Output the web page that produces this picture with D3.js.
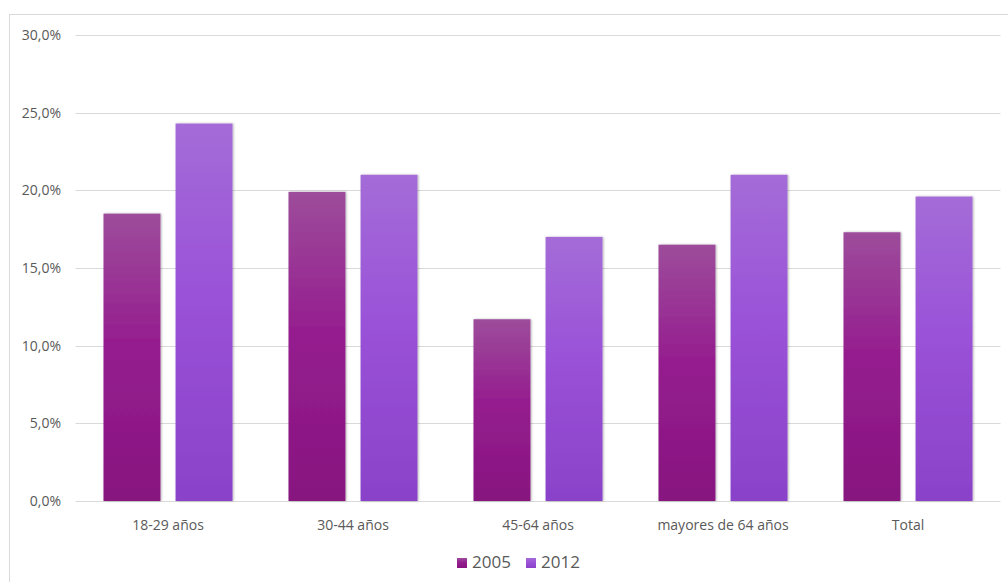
<!DOCTYPE html>
<html>
<head>
<meta charset="utf-8">
<script src="https://cdn.jsdelivr.net/npm/d3@7"></script>
<style>
  body { margin: 0; background: #fff; }
  text { font-family: "Open Sans", "DejaVu Sans", sans-serif; fill: #595959; }
</style>
</head>
<body>
<div id="scene"></div>
<script>
var categories = ["18-29 años", "30-44 años", "45-64 años", "mayores de 64 años", "Total"];
var seriesNames = ["2005", "2012"];
var values2005 = [18.5, 19.9, 11.7, 16.5, 17.3];
var values2012 = [24.3, 21.0, 17.0, 21.0, 19.6];
var yTicks = [0, 5, 10, 15, 20, 25, 30];

var ctx = {
  w: 1008,
  h: 582,
  left: 75.5,
  right: 1000.5,
  top: 35,
  bottom: 501
};

var svgEl = d3.select("#scene").append("svg")
  .attr("width", ctx.w)
  .attr("height", ctx.h);

var defs = svgEl.append("defs");

// gradients for the bars, lighter at the top
var grads = [
  { id: "g2005", top: "#9d4c9b", mid: "#951e8f", bot: "#87147f" },
  { id: "g2012", top: "#a46cd7", mid: "#9a52d8", bot: "#8a42c9" }
];
grads.forEach(function (g) {
  var lg = defs.append("linearGradient")
    .attr("id", g.id)
    .attr("x1", 0).attr("y1", 0).attr("x2", 0).attr("y2", 1);
  lg.append("stop").attr("offset", "0%").attr("stop-color", g.top);
  lg.append("stop").attr("offset", "45%").attr("stop-color", g.mid);
  lg.append("stop").attr("offset", "100%").attr("stop-color", g.bot);
});

var shadow = defs.append("filter").attr("id", "shadow")
  .attr("x", "-10%").attr("y", "-10%").attr("width", "130%").attr("height", "120%");
shadow.append("feDropShadow")
  .attr("dx", 1).attr("dy", 0).attr("stdDeviation", 1.2)
  .attr("flood-color", "#000").attr("flood-opacity", 0.3);

// outer chart border (only left and top visible in the picture)
svgEl.append("rect")
  .attr("x", 9.5).attr("y", 14.5)
  .attr("width", 1010).attr("height", 600)
  .attr("fill", "none")
  .attr("stroke", "#d9d9d9");

var x0 = d3.scaleBand()
  .domain(categories)
  .range([ctx.left, ctx.right])
  .paddingInner(0)
  .paddingOuter(0);

var x1 = d3.scaleBand()
  .domain(seriesNames)
  .range([28, x0.bandwidth() - 28])
  .paddingInner(0.21);

var y = d3.scaleLinear()
  .domain([0, 30])
  .range([ctx.bottom, ctx.top]);

// gridlines
svgEl.append("g")
  .selectAll("line")
  .data(yTicks)
  .enter()
  .append("line")
  .attr("x1", ctx.left)
  .attr("x2", ctx.right)
  .attr("y1", function (d) { return Math.round(y(d)) + 0.5; })
  .attr("y2", function (d) { return Math.round(y(d)) + 0.5; })
  .attr("stroke", "#d9d9d9")
  .attr("stroke-width", 1);

// y axis labels
var yAxis = d3.axisLeft(y)
  .tickValues(yTicks)
  .tickSize(0)
  .tickPadding(0)
  .tickFormat(function (d) { return d.toFixed(1).replace(".", ",") + "%"; });

var gy = svgEl.append("g")
  .attr("transform", "translate(61,0)")
  .call(yAxis);
gy.select(".domain").remove();
gy.selectAll("text")
  .style("font-size", "14px")
  .attr("fill", "#595959");

// bars
var rows = categories.map(function (c, i) {
  return { cat: c, vals: [values2005[i], values2012[i]] };
});

var groups = svgEl.append("g")
  .selectAll("g")
  .data(rows)
  .enter()
  .append("g")
  .attr("transform", function (d) { return "translate(" + x0(d.cat) + ",0)"; });

groups.selectAll("rect")
  .data(function (d) {
    return d.vals.map(function (v, j) { return { key: seriesNames[j], v: v }; });
  })
  .enter()
  .append("rect")
  .attr("x", function (d) { return x1(d.key); })
  .attr("y", function (d) { return y(d.v); })
  .attr("width", x1.bandwidth())
  .attr("height", function (d) { return y(0) - y(d.v); })
  .attr("fill", function (d) { return "url(#g" + d.key + ")"; })
  .attr("filter", "url(#shadow)");

// category axis
var xAxis = d3.axisBottom(x0).tickSize(0).tickPadding(0);
var gx = svgEl.append("g")
  .attr("transform", "translate(0,520)")
  .call(xAxis);
gx.select(".domain").remove();
gx.selectAll("text")
  .style("font-size", "14px")
  .attr("fill", "#595959");

// legend
var legendX = [457, 526];
var legend = svgEl.append("g")
  .selectAll("g")
  .data(seriesNames)
  .enter()
  .append("g")
  .attr("transform", function (d, i) { return "translate(" + legendX[i] + ",558)"; });

legend.append("rect")
  .attr("width", 10)
  .attr("height", 10)
  .attr("fill", function (d) { return "url(#g" + d + ")"; });

legend.append("text")
  .attr("x", 15)
  .attr("y", 9.5)
  .style("font-size", "17px")
  .text(function (d) { return d; });
</script>
</body>
</html>
